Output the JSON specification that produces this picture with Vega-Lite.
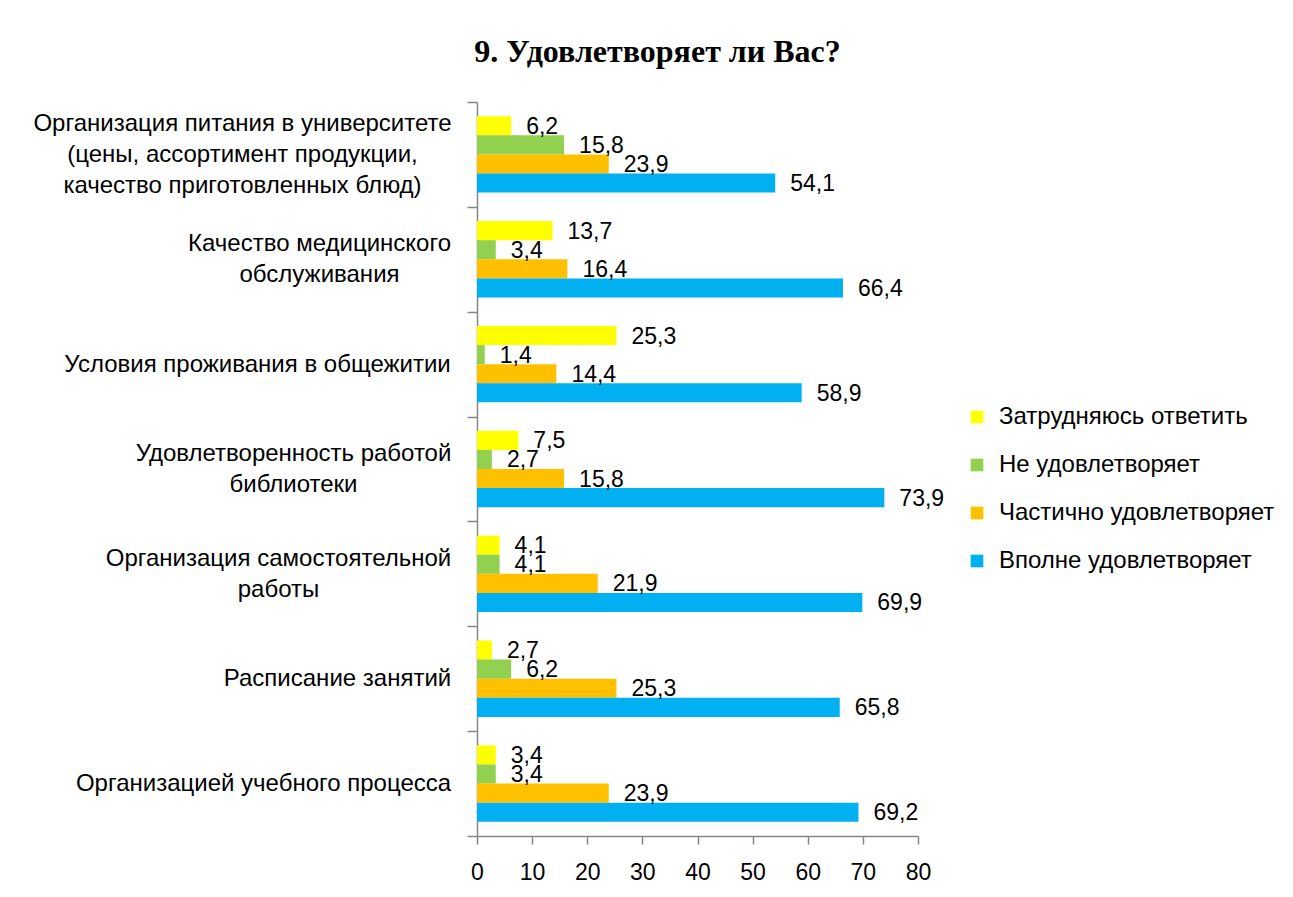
{
  "$schema": "https://vega.github.io/schema/vega-lite/v6.json",
  "width": 441,
  "height": 734,
  "autosize": "none",
  "padding": {"left": 477, "top": 102, "right": 375, "bottom": 61},
  "background": "white",
  "title": {
    "text": "9. Удовлетворяет ли Вас?",
    "font": "Liberation Serif",
    "fontSize": 32,
    "fontWeight": "bold",
    "color": "#000000",
    "anchor": "middle",
    "frame": "group",
    "dx": -40,
    "offset": 21
  },
  "config": {
    "locale": {
      "number": {"decimal": ",", "thousands": " ", "grouping": [3], "currency": ["", " ₽"]}
    },
    "view": {"stroke": null},
    "axis": {"grid": false}
  },
  "data": {
    "values": [
      {"cat": "Организация питания в университете|(цены, ассортимент продукции,|качество приготовленных блюд)", "series": "Затрудняюсь ответить", "value": 6.2},
      {"cat": "Организация питания в университете|(цены, ассортимент продукции,|качество приготовленных блюд)", "series": "Не удовлетворяет", "value": 15.8},
      {"cat": "Организация питания в университете|(цены, ассортимент продукции,|качество приготовленных блюд)", "series": "Частично удовлетворяет", "value": 23.9},
      {"cat": "Организация питания в университете|(цены, ассортимент продукции,|качество приготовленных блюд)", "series": "Вполне удовлетворяет", "value": 54.1},
      {"cat": "Качество медицинского|обслуживания", "series": "Затрудняюсь ответить", "value": 13.7},
      {"cat": "Качество медицинского|обслуживания", "series": "Не удовлетворяет", "value": 3.4},
      {"cat": "Качество медицинского|обслуживания", "series": "Частично удовлетворяет", "value": 16.4},
      {"cat": "Качество медицинского|обслуживания", "series": "Вполне удовлетворяет", "value": 66.4},
      {"cat": "Условия проживания в общежитии", "series": "Затрудняюсь ответить", "value": 25.3},
      {"cat": "Условия проживания в общежитии", "series": "Не удовлетворяет", "value": 1.4},
      {"cat": "Условия проживания в общежитии", "series": "Частично удовлетворяет", "value": 14.4},
      {"cat": "Условия проживания в общежитии", "series": "Вполне удовлетворяет", "value": 58.9},
      {"cat": "Удовлетворенность работой|библиотеки", "series": "Затрудняюсь ответить", "value": 7.5},
      {"cat": "Удовлетворенность работой|библиотеки", "series": "Не удовлетворяет", "value": 2.7},
      {"cat": "Удовлетворенность работой|библиотеки", "series": "Частично удовлетворяет", "value": 15.8},
      {"cat": "Удовлетворенность работой|библиотеки", "series": "Вполне удовлетворяет", "value": 73.9},
      {"cat": "Организация самостоятельной|работы", "series": "Затрудняюсь ответить", "value": 4.1},
      {"cat": "Организация самостоятельной|работы", "series": "Не удовлетворяет", "value": 4.1},
      {"cat": "Организация самостоятельной|работы", "series": "Частично удовлетворяет", "value": 21.9},
      {"cat": "Организация самостоятельной|работы", "series": "Вполне удовлетворяет", "value": 69.9},
      {"cat": "Расписание занятий", "series": "Затрудняюсь ответить", "value": 2.7},
      {"cat": "Расписание занятий", "series": "Не удовлетворяет", "value": 6.2},
      {"cat": "Расписание занятий", "series": "Частично удовлетворяет", "value": 25.3},
      {"cat": "Расписание занятий", "series": "Вполне удовлетворяет", "value": 65.8},
      {"cat": "Организацией учебного процесса", "series": "Затрудняюсь ответить", "value": 3.4},
      {"cat": "Организацией учебного процесса", "series": "Не удовлетворяет", "value": 3.4},
      {"cat": "Организацией учебного процесса", "series": "Частично удовлетворяет", "value": 23.9},
      {"cat": "Организацией учебного процесса", "series": "Вполне удовлетворяет", "value": 69.2}
    ]
  },
  "encoding": {
    "y": {
      "field": "cat",
      "type": "nominal",
      "sort": [
        "Организация питания в университете|(цены, ассортимент продукции,|качество приготовленных блюд)",
        "Качество медицинского|обслуживания",
        "Условия проживания в общежитии",
        "Удовлетворенность работой|библиотеки",
        "Организация самостоятельной|работы",
        "Расписание занятий",
        "Организацией учебного процесса"
      ],
      "scale": {"paddingInner": 0, "paddingOuter": 0},
      "axis": {
        "title": null,
        "tickBand": "extent",
        "domainColor": "#868686",
        "domainWidth": 1.5,
        "tickColor": "#868686",
        "tickWidth": 1.5,
        "tickSize": 10,
        "labelExpr": "split(datum.label, '|')",
        "labelFont": "Liberation Sans",
        "labelFontSize": 24,
        "labelLineHeight": 31,
        "labelColor": "#000000",
        "labelAlign": "center",
        "labelBaseline": "middle",
        "labelLimit": 0,
        "labelOffset": {"expr": "-(length(split(datum.label || '', '|')) - 1) * 15.5"},
        "labelPadding": {"expr": "17 + (indexof(datum.label || '', 'Организация питания') == 0 ? 208 : indexof(datum.label || '', 'Качество') == 0 ? 131 : indexof(datum.label || '', 'Условия') == 0 ? 193 : indexof(datum.label || '', 'Удовлетворенность') == 0 ? 157 : indexof(datum.label || '', 'Организация самостоятельной') == 0 ? 172 : indexof(datum.label || '', 'Расписание') == 0 ? 113 : 187)"}
      }
    },
    "yOffset": {
      "field": "series",
      "type": "nominal",
      "sort": ["Затрудняюсь ответить", "Не удовлетворяет", "Частично удовлетворяет", "Вполне удовлетворяет"],
      "scale": {"paddingInner": 0, "paddingOuter": 0.746}
    },
    "x": {
      "field": "value",
      "type": "quantitative",
      "scale": {"domain": [0, 80], "nice": false},
      "axis": {
        "title": null,
        "values": [0, 10, 20, 30, 40, 50, 60, 70, 80],
        "format": "d",
        "domainColor": "#868686",
        "domainWidth": 1.5,
        "tickColor": "#868686",
        "tickWidth": 1.5,
        "tickSize": 8,
        "labelPadding": 17,
        "labelFont": "Liberation Sans",
        "labelFontSize": 23,
        "labelColor": "#000000",
        "labelFlush": false
      }
    },
    "color": {
      "field": "series",
      "type": "nominal",
      "scale": {
        "domain": ["Затрудняюсь ответить", "Не удовлетворяет", "Частично удовлетворяет", "Вполне удовлетворяет"],
        "range": ["#FFFF00", "#92D050", "#FFC000", "#00B0F0"]
      },
      "legend": {
        "title": null,
        "orient": "none",
        "legendX": 488,
        "legendY": 303,
        "padding": 0,
        "symbolType": "square",
        "symbolSize": 160,
        "symbolStrokeWidth": 0,
        "labelFont": "Liberation Sans",
        "labelFontSize": 24,
        "labelColor": "#000000",
        "labelOffset": 10,
        "labelLimit": 0,
        "rowPadding": 24
      }
    }
  },
  "layer": [
    {"mark": {"type": "bar"}},
    {
      "mark": {
        "type": "text",
        "align": "left",
        "baseline": "middle",
        "dx": 15,
        "dy": 1,
        "font": "Liberation Sans",
        "fontSize": 23,
        "color": "#000000"
      },
      "encoding": {
        "text": {"field": "value", "type": "quantitative", "format": ".1f"},
        "color": {"value": "#000000"}
      }
    }
  ]
}
